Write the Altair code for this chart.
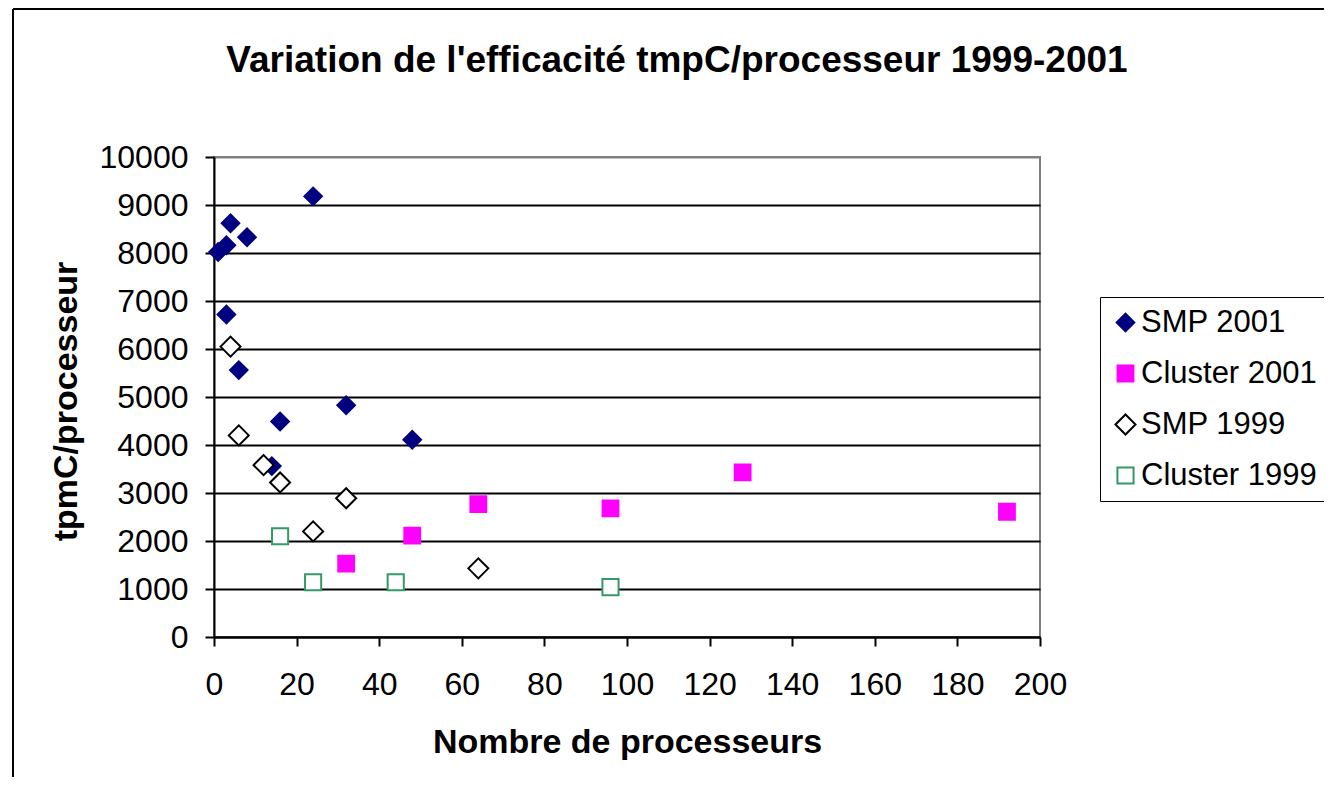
import altair as alt
import pandas as pd

series_names = ["SMP 2001", "Cluster 2001", "SMP 1999", "Cluster 1999"]

smp2001_x = [1, 3, 4, 8, 24, 3, 6, 16, 32, 48, 12, 14]
smp2001_y = [8020, 8160, 8620, 8330, 9180, 6720, 5560, 4490, 4830, 4110, 3600, 3560]
cluster2001_x = [32, 48, 64, 96, 128, 192]
cluster2001_y = [1530, 2110, 2770, 2680, 3430, 2610]
smp1999_x = [4, 6, 12, 16, 24, 32, 64]
smp1999_y = [6050, 4200, 3580, 3220, 2200, 2890, 1430]
cluster1999_x = [16, 24, 44, 96]
cluster1999_y = [2100, 1140, 1140, 1040]

x_ticks = list(range(0, 201, 20))
y_ticks = list(range(0, 10001, 1000))

rows = []
for name, xs, ys in [
    ("SMP 2001", smp2001_x, smp2001_y),
    ("Cluster 2001", cluster2001_x, cluster2001_y),
    ("SMP 1999", smp1999_x, smp1999_y),
    ("Cluster 1999", cluster1999_x, cluster1999_y),
]:
    for xv, yv in zip(xs, ys):
        rows.append({"procs": xv, "eff": yv, "series": name})
df = pd.DataFrame(rows)

FONT = "Liberation Sans"

legend = alt.Legend(
    title=None, orient="none", legendX=886, legendY=140, padding=10,
    strokeColor="black", fillColor="white", labelFontSize=31, labelFont=FONT,
    labelColor="black", rowPadding=19, labelOffset=0, symbolStrokeWidth=2,
    labelLimit=400,
)

points = alt.Chart(df).mark_point(opacity=1, fillOpacity=1, strokeWidth=2).encode(
    x=alt.X("procs:Q", scale=alt.Scale(domain=[0, 200], nice=False, zero=True),
            axis=alt.Axis(values=x_ticks, title="Nombre de processeurs", grid=False, format="d",
                          labelFlush=False, labelPadding=23, titleY=115, titleX=413,
                          titleAlign="center", titleBaseline="alphabetic")),
    y=alt.Y("eff:Q", scale=alt.Scale(domain=[0, 10000], nice=False),
            axis=alt.Axis(values=y_ticks, title="tpmC/processeur", grid=True, format="d",
                          labelFlush=False,
                          gridColor={"condition": {"test": "datum.value === 10000", "value": "#808080"},
                                     "value": "black"},
                          gridWidth=2, labelPadding=17, titleAngle=270, titleX=-138, titleY=244,
                          titleAlign="center", titleBaseline="alphabetic")),
    shape=alt.Shape("series:N", scale=alt.Scale(domain=series_names,
                    range=["diamond", "square", "diamond", "square"]), legend=legend),
    fill=alt.Fill("series:N", scale=alt.Scale(domain=series_names,
                  range=["#000080", "#FF00FF", "white", "white"]), legend=legend),
    stroke=alt.Stroke("series:N", scale=alt.Scale(domain=series_names,
                      range=["#000080", "#FF00FF", "black", "#339966"]), legend=legend),
    size=alt.Size("series:N", scale=alt.Scale(type="ordinal", domain=series_names,
                  range=[310, 250, 400, 260]), legend=legend),
)

frame_df = pd.DataFrame({"k": [0]})
frame_left = alt.Chart(frame_df).mark_rule(color="black", strokeWidth=2).encode(
    x=alt.value(-201), y=alt.value(-148), y2=alt.value(640))
frame_top = alt.Chart(frame_df).mark_rule(color="black", strokeWidth=2).encode(
    x=alt.value(-201), x2=alt.value(1120), y=alt.value(-148))

chart = alt.layer(frame_left, frame_top, points).properties(
    width=826, height=480,
    autosize=alt.AutoSizeParams(type="none"),
    padding={"left": 206, "top": 149, "right": 284, "bottom": 140},
    title=alt.TitleParams(
        "Variation de l'efficacité tmpC/processeur 1999-2001",
        font=FONT, fontSize=37, fontWeight="bold", anchor="middle", dx=50,
        offset=-72, color="black",
    ),
).configure(
    background="white"
).configure_view(
    stroke="#808080", strokeWidth=2
).configure_axis(
    domainColor="black", domainWidth=2, tickColor="black", tickWidth=2, tickSize=9,
    labelFont=FONT, labelFontSize=32, labelColor="black",
    titleFont=FONT, titleFontSize=34, titleFontWeight="bold", titleColor="black",
)

chart.save("out.html", embed_options={"renderer": "svg", "actions": False})
